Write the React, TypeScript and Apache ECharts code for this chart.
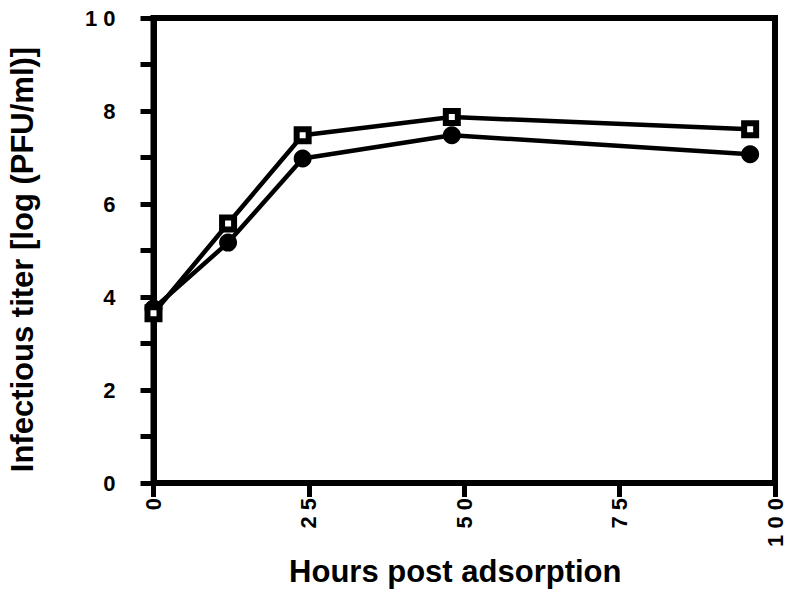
import React, { useEffect, useRef } from "react";
import * as echarts from "echarts";

const hours = [0, 12, 24, 48, 96];
const openSquares = [3.65, 5.58, 7.48, 7.87, 7.61];
const filledCircles = [3.75, 5.17, 6.98, 7.48, 7.07];
const yTickLabels: Record<number, string> = { 0: "0", 2: "2", 4: "4", 6: "6", 8: "8", 10: "1 0" };
const xTickLabels: Record<number, string> = { 0: "0", 25: "2 5", 50: "5 0", 75: "7 5", 100: "1 0 0" };

const FONT = "Liberation Sans, Arial, Helvetica, sans-serif";

export default function App() {
  const ref = useRef<HTMLDivElement>(null);
  useEffect(() => {
    if (!ref.current) return;
    const chart = echarts.init(ref.current, undefined, { renderer: "svg" });
    chart.setOption({
      animation: false,
      backgroundColor: "#ffffff",
      grid: {
        left: 153.5,
        right: 25,
        top: 18,
        bottom: 113,
        outerBoundsMode: "none",
        containLabel: false,
        show: true,
        borderColor: "#000",
        borderWidth: 6,
        backgroundColor: "transparent",
      },
      xAxis: {
        type: "value",
        min: 0,
        max: 100,
        interval: 25,
        name: "Hours post adsorption",
        nameLocation: "middle",
        nameGap: 73,
        nameTextStyle: {
          fontFamily: FONT,
          fontWeight: "bold",
          fontSize: 31,
          color: "#000",
          padding: [0, 18, 0, 0],
        },
        axisLine: { show: true, lineStyle: { color: "#000", width: 6 } },
        axisTick: { show: true, inside: false, length: 14, lineStyle: { color: "#000", width: 5 } },
        splitLine: { show: false },
        axisLabel: {
          rotate: 90,
          margin: 15,
          fontFamily: FONT,
          fontWeight: "bold",
          fontSize: 22,
          color: "#000",
          formatter: (v: number) => xTickLabels[v] ?? "",
        },
      },
      yAxis: {
        type: "value",
        min: 0,
        max: 10,
        interval: 1,
        name: "Infectious titer [log (PFU/ml)]",
        nameLocation: "middle",
        nameGap: 116,
        nameRotate: 90,
        nameTextStyle: {
          fontFamily: FONT,
          fontWeight: "bold",
          fontSize: 31,
          color: "#000",
          padding: [0, 18, 0, 0],
        },
        axisLine: { show: true, lineStyle: { color: "#000", width: 6 } },
        axisTick: { show: true, inside: false, length: 13, lineStyle: { color: "#000", width: 5 } },
        splitLine: { show: false },
        axisLabel: {
          margin: 38,
          fontFamily: FONT,
          fontWeight: "bold",
          fontSize: 22,
          color: "#000",
          formatter: (v: number) => yTickLabels[v] ?? "",
        },
      },
      series: [
        {
          name: "filled",
          type: "line",
          data: hours.map((h, i) => [h, filledCircles[i]]),
          symbol: "circle",
          symbolSize: 18,
          lineStyle: { color: "#000", width: 4.5 },
          itemStyle: { color: "#000", borderColor: "#000", borderWidth: 0 },
          z: 2,
        },
        {
          name: "open",
          type: "line",
          data: hours.map((h, i) => [h, openSquares[i]]),
          symbol: "rect",
          symbolSize: 12,
          lineStyle: { color: "#000", width: 4.5 },
          itemStyle: { color: "#fff", borderColor: "#000", borderWidth: 6 },
          z: 3,
        },
      ],
    });
    return () => chart.dispose();
  }, []);
  return (
    <div
      ref={ref}
      style={{ position: "fixed", left: 0, top: 0, width: 800, height: 596 }}
    />
  );
}
